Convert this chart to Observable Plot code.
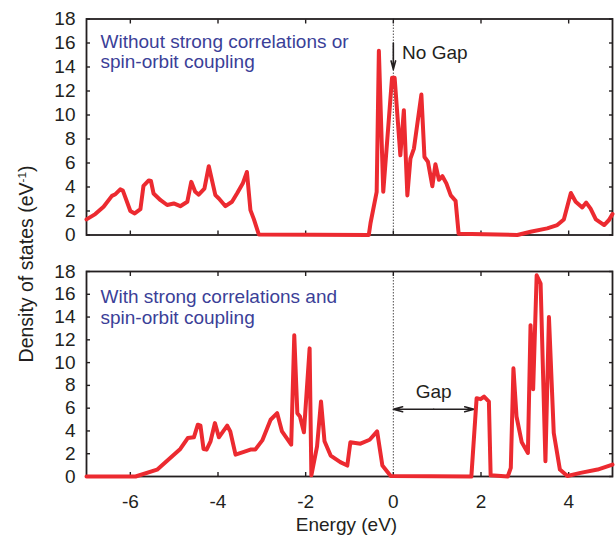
<!DOCTYPE html>
<html>
<head>
<meta charset="utf-8">
<script src="https://cdn.jsdelivr.net/npm/d3@7"></script>
<script src="https://cdn.jsdelivr.net/npm/@observablehq/plot@0.6"></script>
<style>
  html, body { margin: 0; padding: 0; background: #fff; }
  #wrap { position: relative; width: 615px; height: 543px; font-family: "Liberation Sans", Arial, Helvetica, sans-serif; color: #231f20; }
  #top, #bottom { position: absolute; left: 0; }
  #top { top: 0; }
  #bottom { top: 250px; }
  #ylab { position: absolute; left: 26px; top: 264px; transform: translate(-50%, -50%) rotate(-90deg); white-space: nowrap; font-size: 19.5px; }
  #ylab sup { font-size: 0.6em; vertical-align: 0.55em; line-height: 0; }
</style>
</head>
<body>
<div id="wrap">
  <div id="top"></div>
  <div id="bottom"></div>
  <div id="ylab">Density of states (eV<sup>-1</sup>)</div>
</div>
<script>
// ---- data ----
const energyTop = [-7.00,-6.80,-6.61,-6.42,-6.34,-6.23,-6.17,-6.00,-5.90,-5.77,-5.70,-5.58,-5.53,-5.47,-5.31,-5.16,-5.01,-4.86,-4.70,-4.61,-4.52,-4.44,-4.31,-4.21,-4.06,-3.98,-3.83,-3.68,-3.56,-3.43,-3.34,-3.26,-3.18,-3.07,-0.56,-0.52,-0.38,-0.33,-0.23,-0.03,0.03,0.16,0.24,0.32,0.39,0.47,0.64,0.71,0.79,0.89,0.96,1.04,1.12,1.21,1.31,1.42,1.49,2.83,3.13,3.51,3.74,3.89,4.05,4.16,4.31,4.40,4.50,4.62,4.81,4.92,5.00];
const dosTop    = [1.30,1.74,2.35,3.26,3.40,3.80,3.70,2.00,1.80,2.15,4.10,4.55,4.50,3.46,2.90,2.50,2.63,2.40,2.77,4.43,3.60,3.37,3.87,5.73,3.32,3.04,2.40,2.77,3.50,4.34,5.25,2.07,1.30,0.05,0.00,1.00,3.60,15.35,3.60,13.10,13.10,6.64,10.40,3.30,6.36,7.20,11.70,6.50,6.10,4.07,5.90,4.60,4.90,4.30,3.30,2.85,0.10,0.00,0.27,0.55,0.83,1.30,3.50,2.77,2.30,2.70,2.20,1.30,0.83,1.25,1.75];

const energyBottom = [-7.00,-5.88,-5.39,-5.09,-4.86,-4.69,-4.55,-4.46,-4.40,-4.33,-4.26,-4.17,-4.07,-3.98,-3.79,-3.72,-3.60,-3.41,-3.26,-3.15,-2.99,-2.80,-2.65,-2.54,-2.33,-2.26,-2.19,-2.13,-2.04,-1.91,-1.87,-1.74,-1.65,-1.57,-1.43,-1.21,-1.05,-0.98,-0.75,-0.54,-0.37,-0.25,-0.06,1.78,1.90,1.99,2.07,2.18,2.22,2.61,2.68,2.74,2.81,2.93,3.07,3.13,3.19,3.27,3.36,3.47,3.55,3.66,3.80,3.97,4.27,4.66,5.00];
const dosBottom    = [0.00,0.00,0.60,1.63,2.42,3.38,3.44,4.55,4.46,2.42,2.36,3.09,4.69,3.44,4.46,3.96,1.92,2.16,2.36,2.36,3.17,4.98,5.56,3.96,2.80,12.40,5.56,5.27,3.88,11.25,0.10,2.65,6.59,3.09,1.84,1.26,0.96,3.00,2.88,3.23,3.96,0.96,0.05,0.00,6.88,6.79,7.02,6.58,0.10,0.00,0.76,9.50,5.27,3.00,2.07,13.29,7.66,17.66,16.93,1.34,14.00,3.82,0.61,0.05,0.32,0.61,1.05];

const xTicks = [-6, -4, -2, 0, 2, 4];
const yTicks = [0, 2, 4, 6, 8, 10, 12, 14, 16, 18];
const labelTop = ["Without strong correlations or", "spin-orbit coupling"];
const labelBottom = ["With strong correlations and", "spin-orbit coupling"];
const xTitle = "Energy (eV)";
const noGapText = "No Gap";
const gapText = "Gap";
// annotation anchors (data units)
const noGapArrow = [{x1: 0, y1: 16.0, x2: 0, y2: 13.8}];
const noGapLabel = [{x: 0.20, y: 15.2}];
const gapEnds = [0, 1.84];
const gapLevel = 5.9;
const gapLabel = [{x: 0.92, y: 7.45}];

// ---- styling ----
const ink = "#231f20";
const red = "#ec2a30";
const blue = "#3b3f98";
const fontFamily = '"Liberation Sans", Arial, Helvetica, sans-serif';
const hyphenFormat = d => String(d);

const rowsTop = energyTop.map((e, i) => ({E: e, D: dosTop[i]}));
const rowsBottom = energyBottom.map((e, i) => ({E: e, D: dosBottom[i]}));

function frameTicks() {
  return [
    Plot.axisX(xTicks, {anchor: "bottom", tickSize: 4, dy: -4, fill: "none", label: null, strokeWidth: 1.4}),
    Plot.axisX(xTicks, {anchor: "top", tickSize: 4, dy: 4, fill: "none", label: null, strokeWidth: 1.4}),
    Plot.axisY(yTicks, {anchor: "left", tickSize: 4, dx: 4, fill: "none", label: null, strokeWidth: 1.4}),
    Plot.axisY(yTicks, {anchor: "right", tickSize: 4, dx: -4, fill: "none", label: null, strokeWidth: 1.4}),
    Plot.axisY(yTicks, {anchor: "left", tickSize: 0, tickPadding: 11, label: null, fill: ink, tickFormat: hyphenFormat})
  ];
}

function common(height, marginTop, marginBottom) {
  return {
    width: 615,
    height,
    marginLeft: 86,
    marginRight: 3,
    marginTop,
    marginBottom,
    x: {domain: [-7, 5]},
    y: {domain: [0, 18]},
    style: {fontFamily, fontSize: "19px", color: ink, background: "transparent", overflow: "visible"}
  };
}

const topPlot = Plot.plot({
  ...common(250, 18.5, 15.5),
  marks: [
    Plot.ruleX([0], {stroke: ink, strokeWidth: 0.8, strokeDasharray: "1.5,1.5"}),
    ...frameTicks(),
    Plot.frame({stroke: ink, strokeWidth: 1.8}),
    Plot.text([labelTop.join("\n")], {frameAnchor: "top-left", textAnchor: "start", lineAnchor: "top", lineHeight: 1.08, dx: 14, dy: 14, fill: blue, fontSize: 19}),
    Plot.arrow(noGapArrow, {x1: "x1", y1: "y1", x2: "x2", y2: "y2", stroke: ink, strokeWidth: 1.6, headLength: 9, headAngle: 30}),
    Plot.text(noGapLabel, {x: "x", y: "y", text: () => noGapText, textAnchor: "start", fill: ink, fontSize: 19}),
    Plot.line(rowsTop, {x: "E", y: "D", stroke: red, strokeWidth: 4, strokeLinejoin: "round"})
  ]
});

const gapArrows = gapEnds.map(e => ({x1: (gapEnds[0] + gapEnds[1]) / 2, x2: e, y: gapLevel}));

const bottomPlot = Plot.plot({
  ...common(293, 21, 67),
  marks: [
    Plot.ruleX([0], {stroke: ink, strokeWidth: 0.8, strokeDasharray: "1.5,1.5"}),
    ...frameTicks(),
    Plot.axisX(xTicks, {anchor: "bottom", tickSize: 0, tickPadding: 18, label: null, fill: ink, tickFormat: hyphenFormat}),
    Plot.frame({stroke: ink, strokeWidth: 1.8}),
    Plot.text([labelBottom.join("\n")], {frameAnchor: "top-left", textAnchor: "start", lineAnchor: "top", lineHeight: 1.1, dx: 14, dy: 17, fill: blue, fontSize: 19}),
    Plot.arrow(gapArrows, {x1: "x1", y1: "y", x2: "x2", y2: "y", stroke: ink, strokeWidth: 1.6, headLength: 9, headAngle: 30}),
    Plot.text(gapLabel, {x: "x", y: "y", text: () => gapText, fill: ink, fontSize: 19}),
    Plot.text([xTitle], {frameAnchor: "bottom", dy: 54.5, dx: -3, fill: ink, fontSize: 19}),
    Plot.line(rowsBottom, {x: "E", y: "D", stroke: red, strokeWidth: 4, strokeLinejoin: "round"})
  ]
});

document.getElementById("top").appendChild(topPlot);
document.getElementById("bottom").appendChild(bottomPlot);
</script>
</body>
</html>
